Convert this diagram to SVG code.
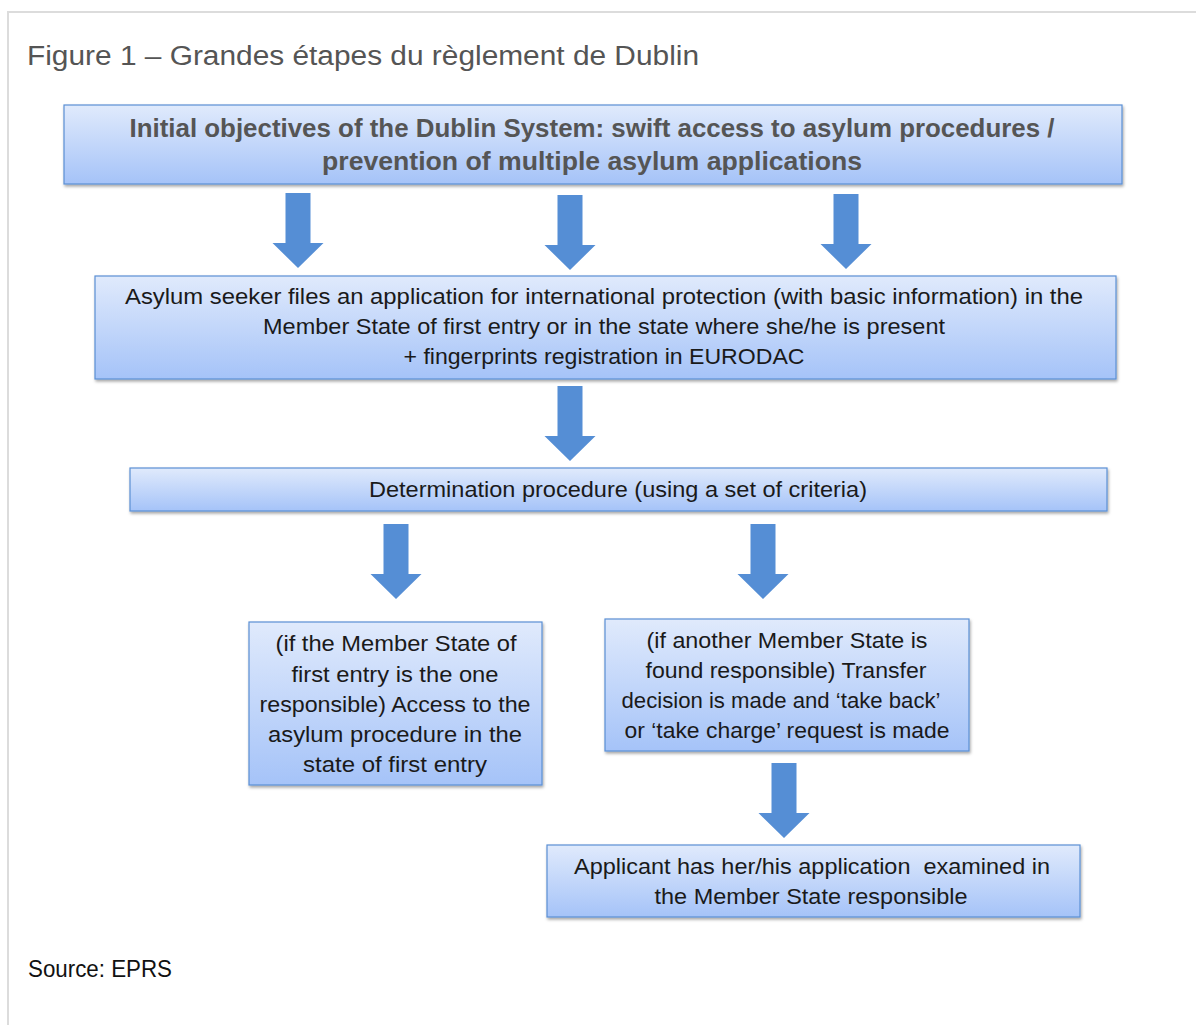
<svg xmlns="http://www.w3.org/2000/svg" width="1196" height="1025" viewBox="0 0 1196 1025">
<style>
.t{font-family:"Liberation Sans",Arial,sans-serif;font-size:22px;fill:#1a1a1a;text-anchor:middle}
.b{font-family:"Liberation Sans",Arial,sans-serif;font-size:25px;font-weight:bold;fill:#555;text-anchor:middle}
.box{fill:url(#g);stroke:#5a8fd4;stroke-width:1.2;filter:url(#sh)}
.arr{fill:#558ed5}
</style>
<defs>
<linearGradient id="g" x1="0" y1="0" x2="0" y2="1">
<stop offset="0" stop-color="#e0eafc"/>
<stop offset="1" stop-color="#a5c3f8"/>
</linearGradient>
<filter id="sh" x="-5%" y="-10%" width="110%" height="130%">
<feDropShadow dx="1" dy="2" stdDeviation="1.5" flood-color="#000" flood-opacity="0.35"/>
</filter>
<path id="ar" d="M-12.5 0 H12.5 V50 H25.5 L0 75 L-25.5 50 H-12.5 Z"/>
</defs>
<rect x="0" y="0" width="1196" height="1025" fill="#fff"/>
<path d="M8 1025 V12 H1196" fill="none" stroke="#dcdcdc" stroke-width="2"/>
<text x="27" y="65" font-family="Liberation Sans,Arial,sans-serif" font-size="27" fill="#555" textLength="672" lengthAdjust="spacingAndGlyphs">Figure 1 – Grandes étapes du règlement de Dublin</text>

<g id="connectors">
<use href="#ar" class="arr" x="298" y="193"/>
<use href="#ar" class="arr" x="570" y="195"/>
<use href="#ar" class="arr" x="846" y="194"/>
<use href="#ar" class="arr" x="570" y="386"/>
<use href="#ar" class="arr" x="396" y="524"/>
<use href="#ar" class="arr" x="763" y="524"/>
<use href="#ar" class="arr" x="784" y="763"/>
</g>

<g id="n1">
<rect class="box" x="64" y="105" width="1058" height="79"/>
<text class="b" x="592" y="137" textLength="925" lengthAdjust="spacingAndGlyphs">Initial objectives of the Dublin System: swift access to asylum procedures /</text>
<text class="b" x="592" y="170" textLength="540" lengthAdjust="spacingAndGlyphs">prevention of multiple asylum applications</text>
</g>
<g id="n2">
<rect class="box" x="95" y="276" width="1021" height="103"/>
<text class="t" x="604" y="304" textLength="958" lengthAdjust="spacingAndGlyphs">Asylum seeker files an application for international protection (with basic information) in the</text>
<text class="t" x="604" y="334" textLength="682" lengthAdjust="spacingAndGlyphs">Member State of first entry or in the state where she/he is present</text>
<text class="t" x="604" y="364" textLength="401" lengthAdjust="spacingAndGlyphs">+ fingerprints registration in EURODAC</text>
</g>
<g id="n3">
<rect class="box" x="130" y="468" width="977" height="43"/>
<text class="t" x="618" y="497" textLength="498" lengthAdjust="spacingAndGlyphs">Determination procedure (using a set of criteria)</text>
</g>
<g id="n4">
<rect class="box" x="249" y="622" width="293" height="163"/>
<text class="t" x="396" y="651" textLength="241" lengthAdjust="spacingAndGlyphs">(if the Member State of</text>
<text class="t" x="395" y="682" textLength="207" lengthAdjust="spacingAndGlyphs">first entry is the one</text>
<text class="t" x="395" y="712" textLength="271" lengthAdjust="spacingAndGlyphs">responsible) Access to the</text>
<text class="t" x="395" y="742" textLength="254" lengthAdjust="spacingAndGlyphs">asylum procedure in the</text>
<text class="t" x="395" y="772" textLength="184" lengthAdjust="spacingAndGlyphs">state of first entry</text>
</g>
<g id="n5">
<rect class="box" x="605" y="619" width="364" height="132"/>
<text class="t" x="787" y="648" textLength="281" lengthAdjust="spacingAndGlyphs">(if another Member State is</text>
<text class="t" x="786" y="678" textLength="281" lengthAdjust="spacingAndGlyphs">found responsible) Transfer</text>
<text class="t" x="781" y="708" textLength="319" lengthAdjust="spacingAndGlyphs">decision is made and ‘take back’</text>
<text class="t" x="787" y="738" textLength="325" lengthAdjust="spacingAndGlyphs">or ‘take charge’ request is made</text>
</g>
<g id="n6">
<rect class="box" x="547" y="845" width="533" height="72"/>
<text class="t" x="812" y="874" textLength="476" lengthAdjust="spacingAndGlyphs" xml:space="preserve">Applicant has her/his application  examined in</text>
<text class="t" x="811" y="904" textLength="313" lengthAdjust="spacingAndGlyphs">the Member State responsible</text>
</g>
<text x="28" y="977" font-family="Liberation Sans,Arial,sans-serif" font-size="24" fill="#111" textLength="144" lengthAdjust="spacingAndGlyphs">Source: EPRS</text>
</svg>
